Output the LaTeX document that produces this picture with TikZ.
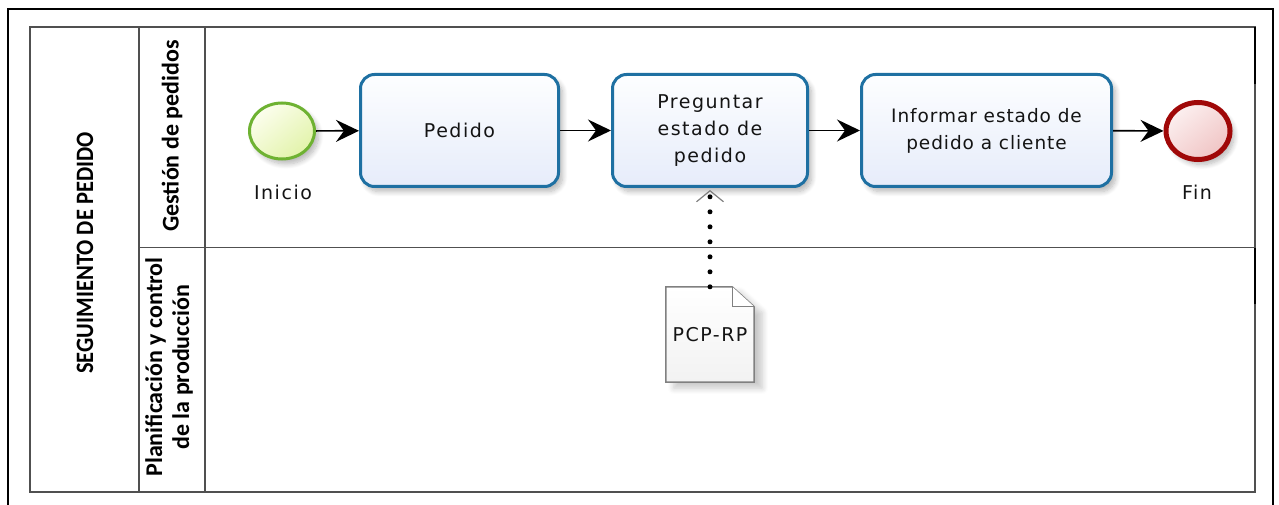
\documentclass[tikz,border=0pt]{standalone}
\usepackage{fontspec}
\usepackage{graphicx}
\setmainfont{DejaVu Sans}[LetterSpace=8]
\newfontfamily\taskfont{DejaVu Sans}[LetterSpace=8]
\newfontfamily\tighttaskfont{DejaVu Sans}[LetterSpace=5]
\newfontfamily\lanefont{Carlito}
\usetikzlibrary{arrows.meta,shapes.geometric,shadows.blur}

\definecolor{inktext}{RGB}{20,20,20}
\definecolor{poolline}{RGB}{80,80,80}
\definecolor{taskline}{RGB}{30,112,162}
\definecolor{taskfillA}{RGB}{253,254,255}
\definecolor{taskfillB}{RGB}{230,236,250}
\definecolor{startline}{RGB}{110,178,50}
\definecolor{startfillA}{RGB}{252,254,238}
\definecolor{startfillB}{RGB}{226,243,170}
\definecolor{endline}{RGB}{160,8,8}
\definecolor{endfillA}{RGB}{252,240,240}
\definecolor{endfillB}{RGB}{240,196,196}
\definecolor{docline}{RGB}{128,128,128}
\definecolor{docfill}{RGB}{242,242,242}

\tikzset{
  softshadow/.style={blur shadow={shadow xshift=4pt, shadow yshift=-5pt,
      shadow blur steps=8, shadow blur radius=5pt, shadow opacity=28}},
  task/.style={rectangle, rounded corners=14pt, draw=taskline, line width=3pt,
      top color=taskfillA, bottom color=taskfillB, minimum height=112pt,
      align=center, text=inktext, inner sep=0pt,
      font=\taskfont\fontsize{19}{27}\selectfont, softshadow},
  startev/.style={ellipse, draw=startline, line width=3pt, inner sep=0pt,
      minimum width=65pt, minimum height=56pt,
      top color=startfillA, bottom color=startfillB, shading angle=40, softshadow},
  endev/.style={ellipse, draw=endline, line width=5pt, inner sep=0pt,
      minimum width=64pt, minimum height=57pt,
      top color=endfillA, bottom color=endfillB, shading angle=40, softshadow},
  evlabel/.style={text=inktext, font=\taskfont\fontsize{19}{22}\selectfont, inner sep=0pt},
  lanelabel/.style={rotate=90, align=center, text=black, inner sep=0pt,
      font=\lanefont\bfseries\fontsize{24}{27}\selectfont},
  flow/.style={draw=black, line width=1.7pt,
      -{Stealth[length=23pt, width=22pt, inset=8pt]}},
  assoc/.style={draw=black, line width=5pt, dash pattern=on 0pt off 15pt,
      line cap=round, shorten >=2pt,
      -{Straight Barb[length=11pt, width=27pt, line width=1.2pt, color=gray]}},
  poolrule/.style={draw=poolline, line width=1.4pt},
}

\begin{document}
\begin{tikzpicture}[x=1pt, y=-1pt]
  \useasboundingbox (0,0) rectangle (1279,505);

  % outer frame (open at the bottom)
  \draw[black, line width=2pt] (8,505) -- (8,9) -- (1273,9) -- (1273,505);

  % pool with two lanes
  \draw[poolrule] (30,27) rectangle (1255,492);
  \draw[poolrule] (139,27) -- (139,492);
  \draw[poolrule] (205,27) -- (205,492);
  \draw[poolrule] (139,247.5) -- (1255,247.5);
  \draw[black, line width=2.2pt] (1255,27) -- (1255,84);
  \draw[black, line width=2.2pt] (1255,248) -- (1255,304);

  % pool and lane titles
  \node[lanelabel, font=\lanefont\bfseries\fontsize{25}{27}\selectfont] (pooltitle) at (85,253)
    {\scalebox{0.9}[1]{SEGUIMIENTO DE PEDIDO}};
  \node[lanelabel] (lane1) at (172,136) {Gestión de pedidos};
  \node[lanelabel] (lane2) at (169,367) {Planificación y control\\de la producción};

  % events and tasks
  \node[startev] (start) at (282,131) {};
  \node[evlabel] (startlbl) at (283,192) {Inicio};

  \node[task, minimum width=198pt] (t1) at (459.5,130.5) {Pedido};
  \node[task, minimum width=195pt] (t2) at (710,130.5) {Preguntar\\estado de\\pedido};
  \node[task, minimum width=250pt, font=\tighttaskfont\fontsize{18.5}{27}\selectfont] (t3)
    at (986.5,130.5) {Informar estado de\\pedido a cliente};

  \node[endev] (fin) at (1198,131) {};
  \node[evlabel] (finlbl) at (1197,192) {Fin};

  % data object
  \node[minimum width=88pt, minimum height=95pt, inner sep=0pt] (doc) at (710,334.5) {};
  \path[blur shadow={shadow xshift=8pt, shadow yshift=-6pt, shadow blur steps=8,
        shadow blur radius=6pt, shadow opacity=22}]
    (doc.north west) -- ([xshift=-22pt]doc.north east) -- ([yshift=-20pt]doc.north east)
    -- (doc.south east) -- (doc.south west) -- cycle;
  \draw[docline, line width=1.5pt, top color=white, bottom color=docfill]
    (doc.north west) -- ([xshift=-22pt]doc.north east) -- ([yshift=-20pt]doc.north east)
    -- (doc.south east) -- (doc.south west) -- cycle;
  \draw[docline, line width=1.2pt, fill=white]
    ([xshift=-22pt]doc.north east) -- ([xshift=-22pt, yshift=-20pt]doc.north east)
    -- ([yshift=-20pt]doc.north east);
  \node[evlabel] (doctext) at (doc.center) {PCP-RP};

  % connectors
  \draw[flow] (start) -- (t1);
  \draw[flow] (t1) -- (t2);
  \draw[flow] (t2) -- (t3);
  \draw[flow] (t3) -- (fin);
  \draw[assoc] (doc.north) -- (t2.south);
\end{tikzpicture}
\end{document}
